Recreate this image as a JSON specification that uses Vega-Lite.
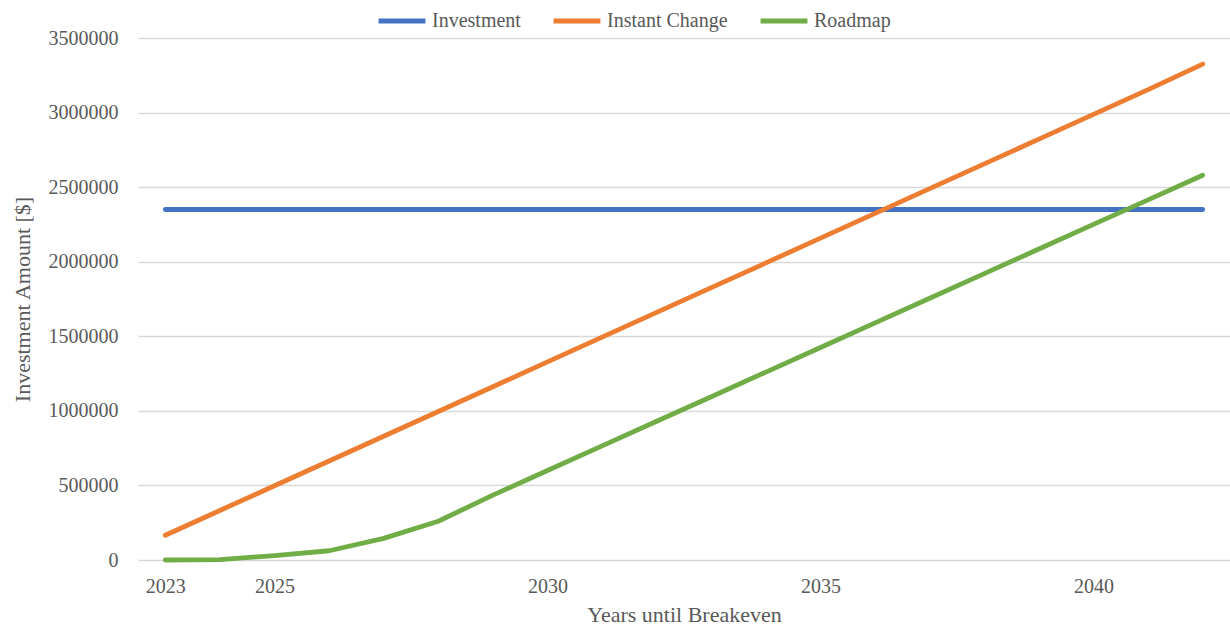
{
  "$schema": "https://vega.github.io/schema/vega-lite/v6.json",
  "autosize": {"type": "none"},
  "width": 1092,
  "height": 522,
  "padding": {"left": 138, "top": 38, "right": 0, "bottom": 67},
  "background": "white",
  "config": {
    "view": {"stroke": null},
    "font": "Liberation Serif",
    "axis": {"labelFont": "Liberation Serif", "titleFont": "Liberation Serif", "labelColor": "#595959", "titleColor": "#595959", "titleFontWeight": "normal"},
    "legend": {"labelFont": "Liberation Serif", "labelColor": "#595959"}
  },
  "datasets": {
    "rows": [
      {"year": 2023, "series": "Investment", "value": 2350000},
      {"year": 2042, "series": "Investment", "value": 2350000},
      {"year": 2023, "series": "Instant Change", "value": 166000},
      {"year": 2024, "series": "Instant Change", "value": 332000},
      {"year": 2025, "series": "Instant Change", "value": 498000},
      {"year": 2026, "series": "Instant Change", "value": 664000},
      {"year": 2027, "series": "Instant Change", "value": 830000},
      {"year": 2028, "series": "Instant Change", "value": 996000},
      {"year": 2029, "series": "Instant Change", "value": 1162000},
      {"year": 2030, "series": "Instant Change", "value": 1328000},
      {"year": 2031, "series": "Instant Change", "value": 1494000},
      {"year": 2032, "series": "Instant Change", "value": 1660000},
      {"year": 2033, "series": "Instant Change", "value": 1826000},
      {"year": 2034, "series": "Instant Change", "value": 1992000},
      {"year": 2035, "series": "Instant Change", "value": 2158000},
      {"year": 2036, "series": "Instant Change", "value": 2324000},
      {"year": 2037, "series": "Instant Change", "value": 2490000},
      {"year": 2038, "series": "Instant Change", "value": 2656000},
      {"year": 2039, "series": "Instant Change", "value": 2822000},
      {"year": 2040, "series": "Instant Change", "value": 2988000},
      {"year": 2041, "series": "Instant Change", "value": 3154000},
      {"year": 2042, "series": "Instant Change", "value": 3325000},
      {"year": 2023, "series": "Roadmap", "value": 0},
      {"year": 2024, "series": "Roadmap", "value": 3000},
      {"year": 2025, "series": "Roadmap", "value": 30000},
      {"year": 2026, "series": "Roadmap", "value": 62000},
      {"year": 2027, "series": "Roadmap", "value": 145000},
      {"year": 2028, "series": "Roadmap", "value": 260000},
      {"year": 2029, "series": "Roadmap", "value": 435000},
      {"year": 2030, "series": "Roadmap", "value": 600000},
      {"year": 2031, "series": "Roadmap", "value": 765000},
      {"year": 2032, "series": "Roadmap", "value": 930000},
      {"year": 2033, "series": "Roadmap", "value": 1095000},
      {"year": 2034, "series": "Roadmap", "value": 1260000},
      {"year": 2035, "series": "Roadmap", "value": 1425000},
      {"year": 2036, "series": "Roadmap", "value": 1590000},
      {"year": 2037, "series": "Roadmap", "value": 1755000},
      {"year": 2038, "series": "Roadmap", "value": 1920000},
      {"year": 2039, "series": "Roadmap", "value": 2085000},
      {"year": 2040, "series": "Roadmap", "value": 2250000},
      {"year": 2041, "series": "Roadmap", "value": 2415000},
      {"year": 2042, "series": "Roadmap", "value": 2580000}
    ]
  },
  "data": {"name": "rows"},
  "mark": {"type": "line", "strokeWidth": 4.8, "strokeCap": "round", "strokeJoin": "round"},
  "encoding": {
    "x": {
      "field": "year", "type": "quantitative",
      "scale": {"domain": [2022.5, 2042.5], "nice": false, "zero": false},
      "axis": {"values": [2023, 2025, 2030, 2035, 2040], "format": "d", "grid": false, "domain": false, "ticks": false,
               "labelFontSize": 20, "labelPadding": 16, "title": "Years until Breakeven", "titleFontSize": 22, "titlePadding": 8}
    },
    "y": {
      "field": "value", "type": "quantitative",
      "scale": {"domain": [0, 3500000], "nice": false},
      "axis": {"values": [0, 500000, 1000000, 1500000, 2000000, 2500000, 3000000, 3500000], "format": "d", "domain": false, "ticks": false,
               "gridColor": "#d9d9d9", "gridWidth": 1.3, "labelFontSize": 20, "labelPadding": 20,
               "title": "Investment Amount [$]", "titleFontSize": 22, "titlePadding": 14}
    },
    "color": {
      "field": "series", "type": "nominal",
      "scale": {"domain": ["Investment", "Instant Change", "Roadmap"], "range": ["#4472C4", "#ED7D31", "#70AD47"]},
      "legend": {"orient": "none", "legendX": 238, "legendY": -43, "direction": "horizontal", "title": null,
                 "symbolType": "stroke", "symbolSize": 2200, "symbolStrokeWidth": 4.8, "labelFontSize": 20,
                 "labelOffset": 4, "columnPadding": 22}
    }
  }
}
